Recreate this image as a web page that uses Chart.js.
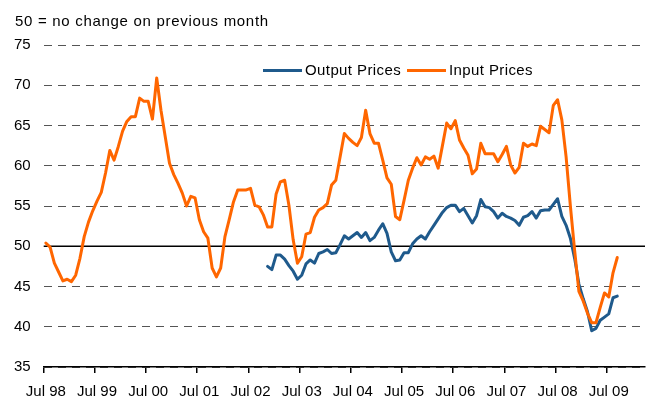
<!DOCTYPE html>
<html>
<head>
<meta charset="utf-8">
<script src="https://cdn.jsdelivr.net/npm/chart.js@4.4.1/dist/chart.umd.min.js"></script>
<style>
  body { margin: 0; background: #fff; font-family: 'Liberation Sans', Arial, sans-serif; }
  #wrap { position: relative; width: 658px; height: 400px; }
  #note { position: absolute; left: 15px; top: 12px; font-size: 15px; line-height: 18px; letter-spacing: .7px; color: #000; }
  .leg { position: absolute; top: 61px; font-size: 15px; line-height: 18px; letter-spacing: .4px; color: #000; display: flex; align-items: center; white-space: nowrap; }
  .leg i { display: inline-block; width: 39px; height: 3px; margin-right: 3px; }
</style>
</head>
<body>
<div id="wrap">
  <canvas id="chart-pmi" width="658" height="400"></canvas>
  <div id="note">50 = no change on previous month</div>
  <div class="leg" style="left:263px"><i style="background:#1f5a8c"></i>Output Prices</div>
  <div class="leg" style="left:407px"><i style="background:#ff6600"></i>Input Prices</div>
</div>
<script>
// ── DATA ──────────────────────────────────────────────────────
// monthly, Jul 98 .. Mar 10 (axis runs past the last reading)
const MONTHS = ['Jan','Feb','Mar','Apr','May','Jun','Jul','Aug','Sep','Oct','Nov','Dec'];
const categories = [];
for (let i = 0; i < 141; i++) {
  const m = (6 + i) % 12;
  const y = 1998 + Math.floor((6 + i) / 12);
  categories.push(MONTHS[m] + ' ' + String(y % 100).padStart(2, '0'));
}

const inputPrices = [
  50.4, 49.9, 47.9, 46.8, 45.7, 45.9, 45.6, 46.4, 48.5, 51.2, 53.0, 54.4,   // Jul 98 - Jun 99
  55.6, 56.7, 59.1, 61.9, 60.7, 62.4, 64.3, 65.5, 66.1, 66.1, 68.4, 68.0,   // Jul 99 - Jun 00
  68.0, 65.8, 70.9, 66.9, 63.6, 60.3, 58.9, 57.8, 56.6, 55.0, 56.2, 56.0,   // Jul 00 - Jun 01
  53.3, 51.8, 51.0, 47.3, 46.2, 47.3, 51.2, 53.3, 55.5, 57.0, 57.0, 57.0,   // Jul 01 - Jun 02
  57.2, 55.1, 54.9, 53.9, 52.4, 52.4, 56.5, 58.0, 58.2, 55.1, 50.8, 47.9,   // Jul 02 - Jun 03
  48.7, 51.5, 51.7, 53.6, 54.5, 54.8, 55.3, 57.6, 58.2, 61.1, 64.0, 63.4,   // Jul 03 - Jun 04
  62.9, 62.5, 63.5, 66.9, 64.0, 62.8, 62.8, 60.7, 58.5, 57.7, 53.7, 53.3,   // Jul 04 - Jun 05
  55.7, 58.2, 59.7, 61.0, 60.1, 61.1, 60.8, 61.2, 59.7, 62.5, 65.3, 64.6,   // Jul 05 - Jun 06
  65.6, 63.2, 62.2, 61.3, 59.0, 59.6, 62.8, 61.5, 61.5, 61.5, 60.5, 61.4,   // Jul 06 - Jun 07
  62.4, 60.1, 59.1, 59.8, 62.8, 62.4, 62.7, 62.5, 64.9, 64.5, 64.1, 67.5,   // Jul 07 - Jun 08
  68.2, 65.7, 61.1, 55.0, 49.5, 44.4, 43.2, 41.7, 40.5, 40.5, 42.4, 44.2,   // Jul 08 - Jun 09
  43.7, 46.7, 48.6                                                          // Jul 09 - Sep 09
];

const outputPrices = Array(52).fill(null).concat([
                                      47.5, 47.1, 48.9, 48.9, 48.4, 47.6, 46.9, 45.9,   // Nov 02 - Jun 03
  46.4, 47.8, 48.3, 47.9, 49.1, 49.3, 49.6, 49.1, 49.2, 50.2, 51.3, 50.9,   // Jul 03 - Jun 04
  51.3, 51.7, 51.1, 51.7, 50.7, 51.1, 52.0, 52.8, 51.6, 49.3, 48.2, 48.3,   // Jul 04 - Jun 05
  49.2, 49.2, 50.3, 50.9, 51.3, 50.9, 51.8, 52.6, 53.4, 54.2, 54.8, 55.1,   // Jul 05 - Jun 06
  55.1, 54.3, 54.7, 53.8, 52.9, 53.8, 55.8, 54.9, 54.8, 54.3, 53.5, 54.1,   // Jul 06 - Jun 07
  53.7, 53.5, 53.2, 52.6, 53.6, 53.8, 54.3, 53.5, 54.4, 54.5, 54.5, 55.2,   // Jul 07 - Jun 08
  55.9, 53.7, 52.6, 51.0, 48.5, 45.3, 43.5, 41.9, 39.5, 39.8, 40.8, 41.2,   // Jul 08 - Jun 09
  41.6, 43.6, 43.8                                                          // Jul 09 - Sep 09
]);

const yTicks = [35, 40, 45, 50, 55, 60, 65, 70, 75];
const NO_CHANGE = 50;

// ── 50 LINE ───────────────────────────────────────────────────
const noChangeLine = {
  id: 'noChangeLine',
  beforeDatasetsDraw(chart) {
    const { ctx, chartArea, scales } = chart;
    const y = scales.y.getPixelForValue(NO_CHANGE);
    ctx.save();
    ctx.strokeStyle = '#000';
    ctx.lineWidth = 1.6;
    ctx.beginPath();
    ctx.moveTo(chartArea.left, y);
    ctx.lineTo(chartArea.right, y);
    ctx.stroke();
    ctx.restore();
  },
};

const FONT = { family: "'Liberation Sans', Arial, sans-serif", size: 15 };
const julOnly = c => (c.index % 12 === 0 ? '#000' : 'rgba(0,0,0,0)');

new Chart(document.getElementById('chart-pmi').getContext('2d'), {
  type: 'line',
  data: {
    labels: categories,
    datasets: [
      { label: 'Output Prices', data: outputPrices, borderColor: '#1f5a8c', order: 2 },
      { label: 'Input Prices',  data: inputPrices,  borderColor: '#ff6600', order: 1 },
    ],
  },
  options: {
    responsive: false,
    animation: false,
    devicePixelRatio: 1,
    layout: { padding: { top: 45, left: 13, right: 13, bottom: 0 } },
    elements: {
      line: { borderWidth: 3, tension: 0, borderJoinStyle: 'round', borderCapStyle: 'round' },
      point: { radius: 0, hoverRadius: 0 },
    },
    plugins: { legend: { display: false }, tooltip: { enabled: false } },
    scales: {
      x: {
        offset: true,
        afterFit: s => { s.height = 33; },
        grid: { offset: true, drawOnChartArea: false, tickLength: 6, color: julOnly, tickColor: julOnly, lineWidth: 1.5 },
        border: { display: true, color: '#000', width: 1.5 },
        ticks: {
          autoSkip: false, maxRotation: 0, minRotation: 0, padding: 10,
          color: '#000', font: FONT,
          callback: (v, i) => (i % 12 === 0 ? categories[i] : ''),
        },
      },
      y: {
        min: 35, max: 75,
        afterFit: s => { s.width = 30.7; },
        afterBuildTicks: s => { s.ticks = yTicks.map(v => ({ value: v })); },
        grid: { drawTicks: false, color: '#555', lineWidth: 1 },
        border: { display: false, dash: [8, 6] },
        ticks: { padding: 13, color: '#000', font: FONT },
      },
    },
  },
  plugins: [noChangeLine],
});
</script>
</body>
</html>
